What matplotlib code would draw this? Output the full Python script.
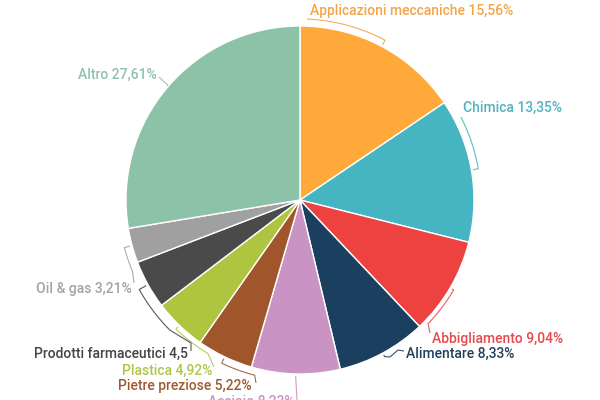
import numpy as np
import matplotlib
matplotlib.use("Agg")
import matplotlib.pyplot as plt

categories = ["Applicazioni meccaniche", "Chimica", "Abbigliamento", "Alimentare",
              "Acciaio", "Pietre preziose", "Plastica", "Prodotti farmaceutici",
              "Oil & gas", "Altro"]
values = [15.56, 13.35, 9.04, 8.33, 8.23, 5.22, 4.92, 4.53, 3.21, 27.61]
label_texts = ["Applicazioni meccaniche 15,56%", "Chimica 13,35%", "Abbigliamento 9,04%",
               "Alimentare 8,33%", "Acciaio 8,23%", "Pietre preziose 5,22%",
               "Plastica 4,92%", "Prodotti farmaceutici 4,5", "Oil & gas 3,21%",
               "Altro 27,61%"]

slice_colors = ["#FFA93A", "#45B6C1", "#EE4241", "#1B3F5E", "#C994C4",
                "#A0562A", "#AFC53F", "#4A4A4A", "#A0A0A0", "#8CC2A8"]
text_colors = ["#F4A547", "#4FB4BF", "#E54A4C", "#21405D", "#C994C4",
               "#9E5A30", "#B0C54C", "#454545", "#A3A3A3", "#8FC2AA"]

W, H = 600, 400
CX, CY, R = 300, 200, 174

fig = plt.figure(figsize=(6, 4), dpi=100)
ax = fig.add_axes([0, 0, 1, 1])
wedges, _ = ax.pie(values, colors=slice_colors, startangle=90, counterclock=False,
                   radius=R, center=(CX, CY), frame=False,
                   wedgeprops=dict(edgecolor="white", linewidth=1.0))
ax.set_xlim(0, W)
ax.set_ylim(0, H)
ax.set_aspect("equal")
ax.axis("off")


def polar(a, r):
    return CX + r * np.cos(np.radians(a)), CY + r * np.sin(np.radians(a))


def px(x, y):
    return x, H - y


# leader layout: arc radius offset, arc end angle, extra points (pixel), label pos (pixel), ha
layout = [
    dict(dr=7, arc_to=87.5, via=[(308, 18)], pos=(310, 11), ha="left"),
    dict(dr=7, arc_to=27, via=[(461, 117)], pos=(463, 108), ha="left"),
    dict(dr=4, arc_to=-44, via=[(430, 333)], pos=(432, 339), ha="left"),
    dict(dr=4, arc_to=None, via=[(390, 357), (398, 350), (404, 351)], pos=(406, 354), ha="left"),
    dict(dr=2, arc_to=None, via=[(297, 400)], pos=(294, 402), ha="right"),
    dict(dr=7, arc_to=-104.5, via=[(256, 383)], pos=(252, 386), ha="right"),
    dict(dr=5, arc_to=-121, via=[(214, 367)], pos=(212, 371), ha="right"),
    dict(dr=10, arc_to=-135, via=[(191, 343), (191, 351)], pos=(188, 354), ha="right"),
    dict(dr=8, arc_to=-157, via=[(134, 283)], pos=(132, 289), ha="right"),
    dict(dr=1, arc_to=None, via=[(159, 77)], pos=(157, 75), ha="right", ang=139),
]

for w, lab, tc, lay in zip(wedges, label_texts, text_colors, layout):
    mid = lay.get("ang", (w.theta1 + w.theta2) / 2)
    pts = [polar(mid, R + 2), polar(mid, R + lay["dr"])]
    if lay["arc_to"] is not None:
        for a in np.linspace(mid, lay["arc_to"], 30):
            pts.append(polar(a, R + lay["dr"]))
    for v in lay["via"]:
        pts.append(px(*v))
    xs, ys = zip(*pts)
    ax.plot(xs, ys, color=tc, lw=0.8, alpha=0.9, solid_capstyle="butt", clip_on=False)
    x, y = px(*lay["pos"])
    ax.text(x, y, lab, color=tc, ha=lay["ha"], va="center", fontsize=10,
            fontweight="medium", family=["Roboto", "DejaVu Sans"], clip_on=False)

fig.savefig("out.png", dpi=100, facecolor="white")
